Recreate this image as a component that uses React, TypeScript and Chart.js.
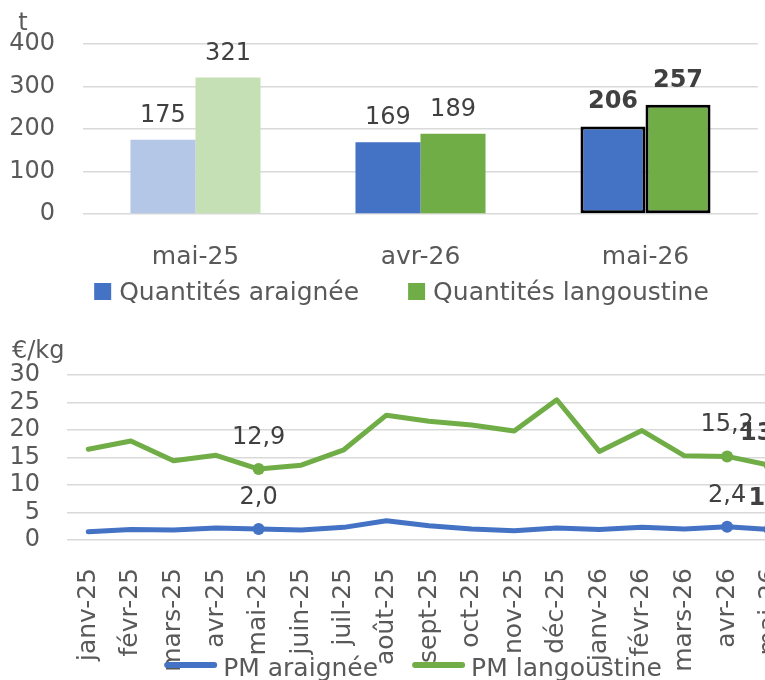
import React, { useEffect, useRef } from "react";
import { Chart, registerables } from "chart.js";

Chart.register(...registerables);

const FONT = '"DejaVu Sans", sans-serif';

// ---- Top chart data (quantities, tonnes)
const barCategories = ["mai-25", "avr-26", "mai-26"];
const quantitesAraignee = [175, 169, 206];
const quantitesLangoustine = [321, 189, 257];
const quantityTicks = [0, 100, 200, 300, 400];

// ---- Bottom chart data (average price, €/kg)
const months = [
  "janv-25", "févr-25", "mars-25", "avr-25", "mai-25", "juin-25", "juil-25", "août-25",
  "sept-25", "oct-25", "nov-25", "déc-25", "janv-26", "févr-26", "mars-26", "avr-26", "mai-26",
];
const pmAraignee = [1.5, 1.9, 1.8, 2.2, 2.0, 1.8, 2.3, 3.5, 2.6, 2.0, 1.7, 2.2, 1.9, 2.3, 2.0, 2.4, 1.9];
const pmLangoustine = [16.5, 18.0, 14.4, 15.4, 12.9, 13.6, 16.4, 22.7, 21.6, 20.9, 19.8, 25.5, 16.1, 19.9, 15.3, 15.2, 13.6];
const priceTicks = [0, 5, 10, 15, 20, 25, 30];
const highlightedMonths = ["mai-25", "avr-26", "mai-26"];
const currentMonth = "mai-26";

const BLUE = "#4472C4";
const GREEN = "#70AD47";
const LIGHT_BLUE = "#B4C7E7";
const LIGHT_GREEN = "#C5E0B4";
const TICK_COLOR = "#595959";
const LABEL_COLOR = "#404040";
const GRID_COLOR = "#D9D9D9";

const fmt = (v: number) => v.toFixed(1).replace(".", ",");

const barValueLabels = {
  id: "barValueLabels",
  afterDatasetsDraw(chart: any) {
    const { ctx } = chart;
    ctx.save();
    ctx.textAlign = "center";
    ctx.textBaseline = "alphabetic";
    ctx.fillStyle = LABEL_COLOR;
    chart.data.datasets.forEach((ds: any, di: number) => {
      chart.getDatasetMeta(di).data.forEach((el: any, i: number) => {
        const bold = chart.data.labels[i] === currentMonth;
        ctx.font = `${bold ? "bold " : ""}24px ${FONT}`;
        ctx.fillText(String(ds.data[i]), el.x, el.y - 18);
      });
    });
    ctx.restore();
  },
};

const lineValueLabels = {
  id: "lineValueLabels",
  afterDatasetsDraw(chart: any) {
    const { ctx } = chart;
    ctx.save();
    ctx.textAlign = "center";
    ctx.textBaseline = "alphabetic";
    ctx.fillStyle = LABEL_COLOR;
    chart.data.datasets.forEach((ds: any, di: number) => {
      chart.getDatasetMeta(di).data.forEach((el: any, i: number) => {
        const m = chart.data.labels[i];
        if (!highlightedMonths.includes(m)) return;
        const bold = m === currentMonth;
        ctx.font = `${bold ? "bold " : ""}24px ${FONT}`;
        ctx.fillText(fmt(ds.data[i]), el.x, el.y - 25);
      });
    });
    ctx.restore();
  },
};

function unitTitle(id: string, text: string, x: number, y: number, align: CanvasTextAlign) {
  return {
    id,
    afterDraw(chart: any) {
      const { ctx } = chart;
      ctx.save();
      ctx.font = `24px ${FONT}`;
      ctx.fillStyle = TICK_COLOR;
      ctx.textAlign = align;
      ctx.textBaseline = "alphabetic";
      ctx.fillText(text, x, y);
      ctx.restore();
    },
  };
}

function legendPlugin(o: {
  centerX: number; symbolY: number; baselineY: number; symW: number; symH: number;
  gap: number; itemGap: number; kind: "box" | "line"; colors: string[];
}) {
  return {
    id: "customLegend",
    afterDraw(chart: any) {
      const { ctx } = chart;
      ctx.save();
      ctx.font = `25px ${FONT}`;
      const labels: string[] = chart.data.datasets.map((d: any) => d.label);
      const widths = labels.map((t) => ctx.measureText(t).width);
      const total = widths.reduce((s, w) => s + o.symW + o.gap + w, 0) + o.itemGap * (labels.length - 1);
      let x = o.centerX - total / 2;
      labels.forEach((t, i) => {
        const c = o.colors[i];
        if (o.kind === "box") {
          ctx.fillStyle = c;
          ctx.fillRect(x, o.symbolY - o.symH / 2, o.symW, o.symH);
        } else {
          ctx.strokeStyle = c;
          ctx.lineWidth = o.symH;
          ctx.lineCap = "round";
          ctx.beginPath();
          ctx.moveTo(x + o.symH / 2, o.symbolY);
          ctx.lineTo(x + o.symW - o.symH / 2, o.symbolY);
          ctx.stroke();
        }
        x += o.symW + o.gap;
        ctx.fillStyle = TICK_COLOR;
        ctx.textAlign = "left";
        ctx.textBaseline = "alphabetic";
        ctx.fillText(t, x, o.baselineY);
        x += widths[i] + o.itemGap;
      });
      ctx.restore();
    },
  };
}

export default function App() {
  const topRef = useRef<HTMLCanvasElement>(null);
  const bottomRef = useRef<HTMLCanvasElement>(null);

  useEffect(() => {
    const top = new Chart(topRef.current as HTMLCanvasElement, {
      type: "bar",
      data: {
        labels: barCategories,
        datasets: [
          {
            label: "Quantités araignée",
            data: quantitesAraignee,
            backgroundColor: barCategories.map((_, i) => (i === 0 ? LIGHT_BLUE : BLUE)),
            borderColor: "#000000",
            borderWidth: barCategories.map((c) => (c === currentMonth ? 3 : 0)),
            borderSkipped: false,
            categoryPercentage: 0.578,
            barPercentage: 1,
          },
          {
            label: "Quantités langoustine",
            data: quantitesLangoustine,
            backgroundColor: barCategories.map((_, i) => (i === 0 ? LIGHT_GREEN : GREEN)),
            borderColor: "#000000",
            borderWidth: barCategories.map((c) => (c === currentMonth ? 3 : 0)),
            borderSkipped: false,
            categoryPercentage: 0.578,
            barPercentage: 1,
          },
        ],
      },
      options: {
        animation: false,
        responsive: false,
        devicePixelRatio: 1,
        layout: { padding: { left: 0, right: 7, top: 44, bottom: 0 } },
        plugins: { legend: { display: false }, tooltip: { enabled: false } },
        scales: {
          x: {
            grid: { display: false },
            border: { display: false },
            ticks: { color: TICK_COLOR, font: { family: FONT, size: 25 }, padding: 20 },
            afterFit: (s: any) => { s.height = 106; },
          },
          y: {
            min: 0,
            max: 400,
            afterBuildTicks: (s: any) => { s.ticks = quantityTicks.map((v) => ({ value: v })); },
            grid: { color: GRID_COLOR, lineWidth: 1.5, drawTicks: false },
            border: { display: false },
            ticks: { color: TICK_COLOR, font: { family: FONT, size: 24 }, padding: 28, autoSkip: false },
            afterFit: (s: any) => { s.width = 83; },
          },
        },
      },
      plugins: [
        barValueLabels,
        unitTitle("unitT", "t", 23, 30, "center"),
        legendPlugin({
          centerX: 401.5, symbolY: 291.5, baselineY: 300, symW: 17, symH: 17,
          gap: 8, itemGap: 49, kind: "box", colors: [BLUE, GREEN],
        }),
      ],
    } as any);

    const pointR = (ctx: any) => (highlightedMonths.includes(months[ctx.dataIndex]) ? 6 : 0);

    const bottom = new Chart(bottomRef.current as HTMLCanvasElement, {
      type: "line",
      data: {
        labels: months,
        datasets: [
          {
            label: "PM araignée",
            data: pmAraignee,
            borderColor: BLUE,
            backgroundColor: BLUE,
            pointBackgroundColor: BLUE,
            borderWidth: 5,
            pointRadius: pointR,
            pointBorderWidth: 0,
            tension: 0,
            borderJoinStyle: "round",
            borderCapStyle: "round",
          },
          {
            label: "PM langoustine",
            data: pmLangoustine,
            borderColor: GREEN,
            backgroundColor: GREEN,
            pointBackgroundColor: GREEN,
            borderWidth: 5,
            pointRadius: pointR,
            pointBorderWidth: 0,
            tension: 0,
            borderJoinStyle: "round",
            borderCapStyle: "round",
          },
        ],
      },
      options: {
        animation: false,
        responsive: false,
        devicePixelRatio: 1,
        layout: { padding: { left: 0, right: 40, top: 55, bottom: 0 } },
        plugins: { legend: { display: false }, tooltip: { enabled: false } },
        scales: {
          x: {
            offset: true,
            grid: { display: false },
            border: { display: false },
            ticks: {
              color: TICK_COLOR,
              font: { family: FONT, size: 25 },
              padding: 20,
              minRotation: 90,
              maxRotation: 90,
              autoSkip: false,
            },
            afterFit: (s: any) => { s.height = 140; },
          },
          y: {
            min: 0,
            max: 30,
            afterBuildTicks: (s: any) => { s.ticks = priceTicks.map((v) => ({ value: v })); },
            grid: { color: GRID_COLOR, lineWidth: 1.5, drawTicks: false },
            border: { display: false },
            ticks: { color: TICK_COLOR, font: { family: FONT, size: 24 }, padding: 27, autoSkip: false },
            afterFit: (s: any) => { s.width = 67; },
          },
        },
      },
      plugins: [
        lineValueLabels,
        unitTitle("unitEur", "€/kg", 12, 38, "left"),
        legendPlugin({
          centerX: 413, symbolY: 345, baselineY: 356, symW: 53, symH: 6,
          gap: 6, itemGap: 34, kind: "line", colors: [BLUE, GREEN],
        }),
      ],
    } as any);

    return () => {
      top.destroy();
      bottom.destroy();
    };
  }, []);

  return (
    <div
      style={{
        position: "fixed",
        left: 0,
        top: 0,
        width: 765,
        height: 680,
        overflow: "hidden",
        background: "#ffffff",
      }}
    >
      <canvas
        ref={topRef}
        width={765}
        height={320}
        style={{ position: "absolute", left: 0, top: 0, width: 765, height: 320 }}
      />
      <canvas
        ref={bottomRef}
        width={831}
        height={360}
        style={{ position: "absolute", left: 0, top: 320, width: 831, height: 360 }}
      />
    </div>
  );
}
